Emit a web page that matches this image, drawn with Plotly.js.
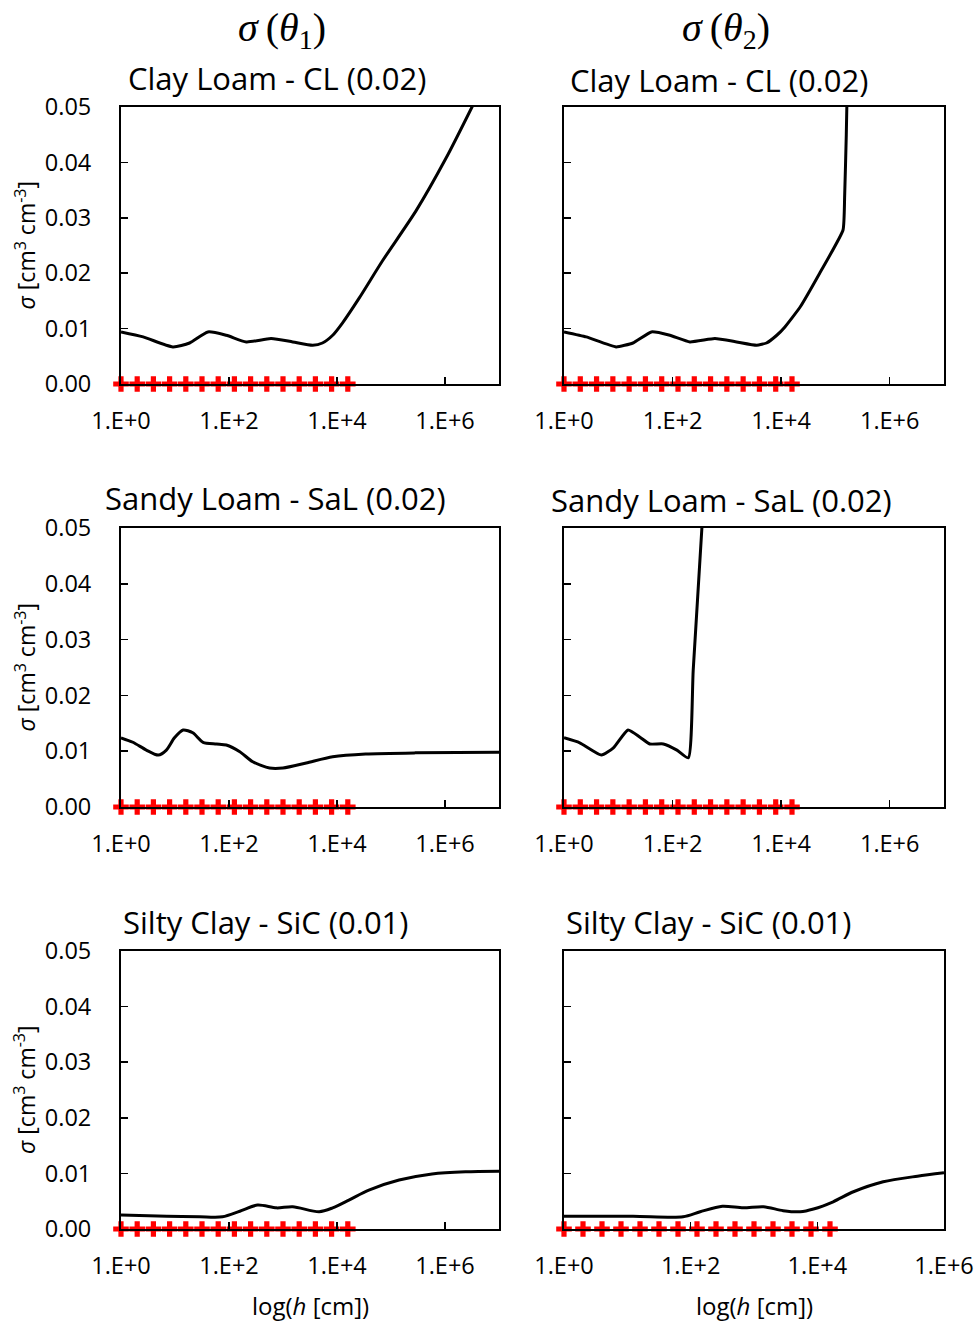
<!DOCTYPE html>
<html><head><meta charset="utf-8">
<script src="https://cdn.plot.ly/plotly-3.0.1.min.js"></script>
<style>body{margin:0;background:#fff}</style>
</head><body><div id="chart" style="width:980px;height:1321px"></div>
<script>
// ---- data (log10 h, sigma) ----
const CL1_logh  = [0, 0.41, 0.96, 1.27, 1.61, 1.95, 2.32, 2.78, 3.18, 3.55, 3.73, 3.92, 4.10, 4.41, 4.84, 5.46, 6.01, 6.50, 6.70];
const CL1_sigma = [0.0094, 0.0085, 0.0067, 0.0074, 0.0094, 0.0088, 0.0076, 0.0082, 0.0076, 0.0070, 0.0074, 0.0088, 0.0110, 0.0155, 0.0222, 0.0312, 0.0406, 0.0500, 0.0540];

const CL2_logh  = [0, 0.41, 0.96, 1.27, 1.61, 1.95, 2.32, 2.78, 3.18, 3.55, 3.73, 3.92, 4.07, 4.35, 4.71, 5.14, 5.17, 5.20, 5.22];
const CL2_sigma = [0.0094, 0.0085, 0.0067, 0.0074, 0.0094, 0.0088, 0.0076, 0.0082, 0.0076, 0.0070, 0.0074, 0.0088, 0.0103, 0.0139, 0.0200, 0.0278, 0.0340, 0.0450, 0.0550];

const SaL1_logh  = [0, 0.22, 0.47, 0.69, 0.84, 0.99, 1.15, 1.33, 1.52, 1.77, 1.95, 2.20, 2.44, 2.75, 3.00, 3.43, 3.92, 4.53, 5.45, 7.00];
const SaL1_sigma = [0.0124, 0.0116, 0.0102, 0.0093, 0.0102, 0.0124, 0.0138, 0.0133, 0.0116, 0.0113, 0.0111, 0.0099, 0.0081, 0.0070, 0.0070, 0.0079, 0.0090, 0.0095, 0.0097, 0.0098];

const SaL2_logh  = [0, 0.29, 0.69, 0.91, 1.18, 1.40, 1.58, 1.83, 2.08, 2.29, 2.38, 2.54, 2.56];
const SaL2_sigma = [0.0124, 0.0115, 0.0093, 0.0106, 0.0138, 0.0125, 0.0113, 0.0113, 0.0102, 0.0088, 0.0245, 0.0500, 0.0540];

const SiC1_logh  = [0, 0.85, 1.46, 1.88, 2.20, 2.53, 2.88, 3.18, 3.67, 3.92, 4.22, 4.59, 5.15, 5.76, 6.38, 7.00];
const SiC1_sigma = [0.0025, 0.0023, 0.0022, 0.0022, 0.0032, 0.0043, 0.0038, 0.0040, 0.0031, 0.0038, 0.0052, 0.0070, 0.0088, 0.0099, 0.0103, 0.0104];

const SiC2_logh  = [0, 1.09, 1.88, 2.15, 2.50, 2.83, 3.15, 3.46, 3.73, 3.94, 4.25, 4.57, 5.04, 5.58, 6.00];
const SiC2_sigma = [0.0023, 0.0023, 0.0022, 0.0031, 0.0041, 0.0038, 0.0040, 0.0033, 0.0031, 0.0036, 0.0049, 0.0067, 0.0085, 0.0095, 0.0101];

const markerLogh  = [0, 0.3, 0.6, 0.9, 1.2, 1.5, 1.8, 2.1, 2.4, 2.7, 3.0, 3.3, 3.6, 3.9, 4.2];
const markerSigma = [0, 0, 0, 0, 0, 0, 0, 0, 0, 0, 0, 0, 0, 0, 0];

const panelTitles = ['Clay Loam - CL (0.02)', 'Clay Loam - CL (0.02)',
                     'Sandy Loam - SaL (0.02)', 'Sandy Loam - SaL (0.02)',
                     'Silty Clay - SiC (0.01)', 'Silty Clay - SiC (0.01)'];
const xTickVals = [0, 2, 4, 6];
const xTickText = ['1.E+0', '1.E+2', '1.E+4', '1.E+6'];
const yTickVals = [0, 0.01, 0.02, 0.03, 0.04, 0.05];
const yTickText = ['0.00', '0.01', '0.02', '0.03', '0.04', '0.05'];

// ---- layout geometry (pixels) ----
const W = 980, H = 1321;
const px = v => v / W, py = v => 1 - v / H;
const cols = [[121, 499], [564, 944]];
const rows = [[107, 384], [528, 807], [951, 1229]];
const xRanges = [[0, 7], [0, 7], [0, 7], [0, 7], [0, 7], [0, 6]];
const series = [[CL1_logh, CL1_sigma], [CL2_logh, CL2_sigma],
                [SaL1_logh, SaL1_sigma], [SaL2_logh, SaL2_sigma],
                [SiC1_logh, SiC1_sigma], [SiC2_logh, SiC2_sigma]];
const smoothing = [0.6, 0.4, 0.7, 0.5, 0.8, 0.8];
const titleCenters = [[277, 78], [719, 80], [275, 498], [721, 500], [265, 922], [708, 922]];

const FONT = 'Open Sans, sans-serif';
const traces = [];
const layout = {
  width: W, height: H, margin: {l: 0, r: 0, t: 0, b: 0},
  paper_bgcolor: '#fff', plot_bgcolor: '#fff', showlegend: false,
  font: {family: FONT, color: '#000'}, annotations: []
};

for (let i = 0; i < 6; i++) {
  const r = Math.floor(i / 2), c = i % 2;
  const sfx = i === 0 ? '' : String(i + 1);
  traces.push({
    x: series[i][0], y: series[i][1], xaxis: 'x' + sfx, yaxis: 'y' + sfx,
    mode: 'lines', type: 'scatter',
    line: {color: '#000', width: 3, shape: 'spline', smoothing: smoothing[i]}
  });
  traces.push({
    x: markerLogh, y: markerSigma, xaxis: 'x' + sfx, yaxis: 'y' + sfx,
    mode: 'markers', type: 'scatter', cliponaxis: false,
    marker: {symbol: 'cross', color: '#ff0000', size: 13, line: {width: 0}}
  });
  layout['xaxis' + sfx] = {
    domain: [px(cols[c][0]), px(cols[c][1])], range: xRanges[i],
    anchor: 'y' + sfx, tickvals: xTickVals, ticktext: xTickText,
    ticks: 'inside', ticklen: 7, tickwidth: 1.5, tickcolor: '#000',
    showline: true, linewidth: 2, linecolor: '#000', mirror: true,
    showgrid: false, zeroline: false, ticklabelstandoff: 15,
    tickfont: {family: FONT, size: 23.5, color: '#000'}
  };
  layout['yaxis' + sfx] = {
    domain: [py(rows[r][1]), py(rows[r][0])], range: [0, 0.05],
    anchor: 'x' + sfx, tickvals: yTickVals, ticktext: yTickText,
    showticklabels: c === 0,
    ticks: 'inside', ticklen: 7, tickwidth: 1.5, tickcolor: '#000',
    showline: true, linewidth: 2, linecolor: '#000', mirror: true,
    showgrid: false, zeroline: false, ticklabelstandoff: 23,
    tickfont: {family: FONT, size: 23.5, color: '#000'}
  };
  layout.annotations.push({
    text: panelTitles[i], xref: 'paper', yref: 'paper',
    x: px(titleCenters[i][0]), y: py(titleCenters[i][1]),
    xanchor: 'center', yanchor: 'middle', showarrow: false,
    font: {family: FONT, size: 31, color: '#000'}
  });
  if (c === 0) {
    layout.annotations.push({
      text: '<i>σ</i> [cm<sup>3</sup> cm<sup>-3</sup>]', xref: 'paper', yref: 'paper',
      x: px(25), y: py((rows[r][0] + rows[r][1]) / 2), textangle: -90,
      xanchor: 'center', yanchor: 'middle', showarrow: false,
      font: {family: FONT, size: 23, color: '#000'}
    });
  }
  if (r === 2) {
    layout.annotations.push({
      text: 'log(<i>h</i> [cm])', xref: 'paper', yref: 'paper',
      x: px((cols[c][0] + cols[c][1]) / 2), y: py(1305),
      xanchor: 'center', yanchor: 'middle', showarrow: false,
      font: {family: FONT, size: 24, color: '#000'}
    });
  }
}
const headers = ['<i>σ</i>\u2009(<i>θ</i><sub>1</sub>)', '<i>σ</i>\u2009(<i>θ</i><sub>2</sub>)'];
const headerX = [282, 726];
for (let c = 0; c < 2; c++) {
  layout.annotations.push({
    text: headers[c], xref: 'paper', yref: 'paper',
    x: px(headerX[c]), y: py(30), xanchor: 'center', yanchor: 'middle', showarrow: false,
    font: {family: 'Liberation Serif, serif', size: 40, color: '#000'}
  });
}
Plotly.newPlot('chart', traces, layout, {staticPlot: true});
</script></body></html>
